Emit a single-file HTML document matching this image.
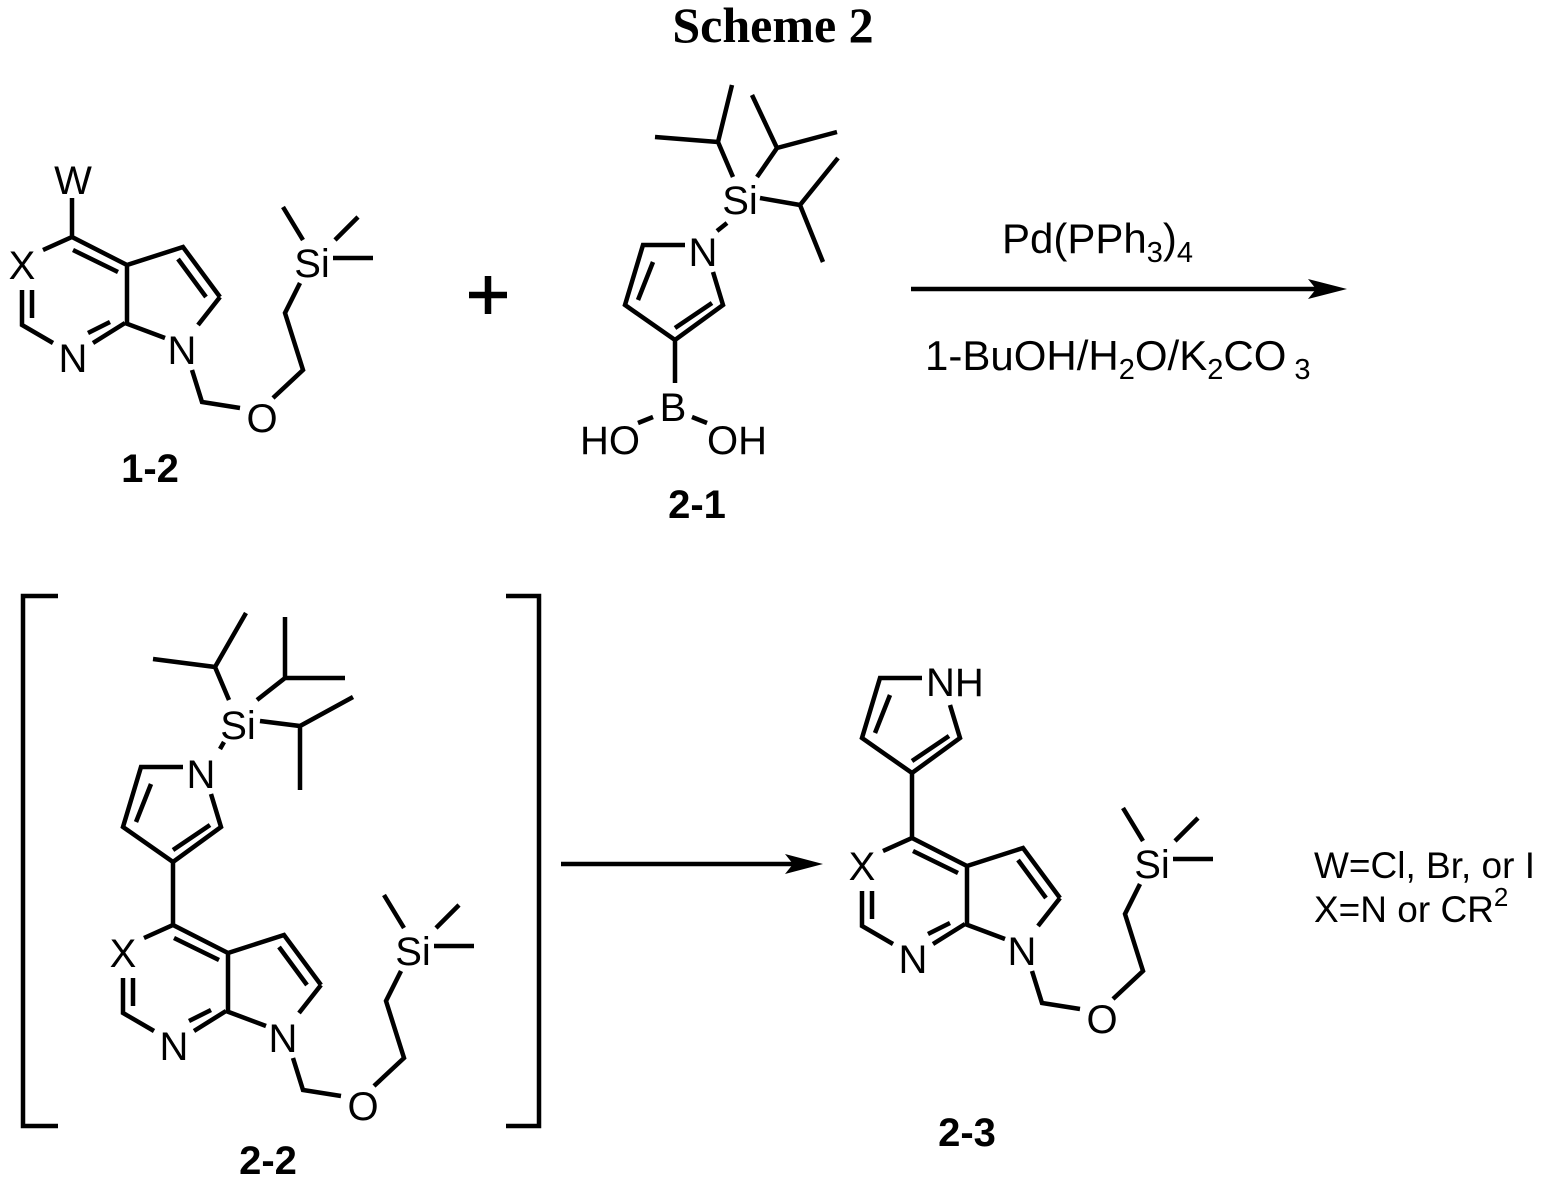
<!DOCTYPE html>
<html><head><meta charset="utf-8"><style>
html,body{margin:0;padding:0;background:#fff;}
svg{display:block;}
text{font-family:"Liberation Sans",Arial,sans-serif;fill:#000;}
.a{font-size:40px;text-anchor:middle;}
.b{font-size:40px;font-weight:bold;text-anchor:middle;}
</style></head><body>
<svg width="1547" height="1181" viewBox="0 0 1547 1181" xmlns="http://www.w3.org/2000/svg">
<g stroke="#000" stroke-width="4.5" fill="none" stroke-linecap="butt">
<g>
<path d="M72 198L72 237M43 250L72 237L127 265M73 250L118 272M127 265L127 323M127 265L183 247L220 297M178 259L206 297M220 297L198 325M125 323L165 338M125 323L93 343M88 333L110 322M53 343L22 325L22 290M32 290L32 318M192 370L202 402L240 408M273 398L303 370L285 313L300 283M283 207L303 240M335 240L358 217M333 258L373 258"/>
</g>
<g transform="translate(101,688)">
<path d="M43 250L72 237L127 265M73 250L118 272M127 265L127 323M127 265L183 247L220 297M178 259L206 297M220 297L198 325M125 323L165 338M125 323L93 343M88 333L110 322M53 343L22 325L22 290M32 290L32 318M192 370L202 402L240 408M273 398L303 370L285 313L300 283M283 207L303 240M335 240L358 217M333 258L373 258"/>
</g>
<g transform="translate(840,601)">
<path d="M43 250L72 237L127 265M73 250L118 272M127 265L127 323M127 265L183 247L220 297M178 259L206 297M220 297L198 325M125 323L165 338M125 323L93 343M88 333L110 322M53 343L22 325L22 290M32 290L32 318M192 370L202 402L240 408M273 398L303 370L285 313L300 283M283 207L303 240M335 240L358 217M333 258L373 258"/>
</g>
<path d="M685 245L643 245L625 305L675 340L723 305L713 272M653 262L638 300M675 328L712 303M675 340L675 383M653 417L638 423M692 417L707 423M727 223L717 231"/>
<path d="M733 177L718 142L655 137M718 142L732 85M757 177L777 148L752 95M777 148L837 132M760 198L800 205L838 158M800 205L823 262"/>
<g transform="translate(-502,522)">
<path d="M685 245L643 245L625 305L675 340L723 305L713 272M653 262L638 300M675 328L712 303"/>
</g>
<path d="M173 862L173 925M220 749L224 742"/>
<path d="M229 700L215 667L153 659M215 667L246 613M257 700L285 678L285 617M285 678L345 678M260 721L300 726L353 697M300 726L300 790"/>
<g transform="translate(237,433)">
<path d="M685 245L643 245L625 305L675 340L723 305L713 272M653 262L638 300M675 328L712 303"/>
</g>
<path d="M912 773L912 838"/>
<path d="M58 596L23 596L23 1126L58 1126M506 596L539 596L539 1126L506 1126"/>
<path d="M911 289L1320 289M561 864L795 864"/>
<path d="M469 295L507 295M488 276L488 314" stroke-width="6.5"/>
</g>
<g fill="#000">
<path d="M1347 289L1308 279L1316 289L1308 299Z"/>
<path d="M823 864L785 854L793 864L785 874Z"/>
</g>
<text x="773" y="42" style="font-family:'Liberation Serif',serif;font-weight:bold;font-size:50px;text-anchor:middle">Scheme 2</text>
<g>
<text class="a" x="73" y="194">W</text>
<text class="a" x="22" y="279">X</text>
<text class="a" x="73" y="372">N</text>
<text class="a" x="182" y="364">N</text>
<text class="a" x="312" y="277">Si</text>
<text class="a" x="262" y="432">O</text>
</g>
<g transform="translate(101,688)">
<text class="a" x="22" y="279">X</text>
<text class="a" x="73" y="372">N</text>
<text class="a" x="182" y="364">N</text>
<text class="a" x="312" y="277">Si</text>
<text class="a" x="262" y="432">O</text>
</g>
<g transform="translate(840,601)">
<text class="a" x="22" y="279">X</text>
<text class="a" x="73" y="372">N</text>
<text class="a" x="182" y="364">N</text>
<text class="a" x="312" y="277">Si</text>
<text class="a" x="262" y="432">O</text>
</g>
<text class="a" x="703" y="266">N</text>
<text class="a" x="740" y="214">Si</text>
<text class="a" x="673" y="421">B</text>
<text class="a" x="610" y="454">HO</text>
<text class="a" x="737" y="454">OH</text>
<text class="a" x="201" y="788">N</text>
<text class="a" x="238" y="739">Si</text>
<text x="926" y="696" style="font-size:40px">NH</text>
<text class="b" x="150" y="482">1-2</text>
<text class="b" x="697" y="518">2-1</text>
<text class="b" x="268" y="1174">2-2</text>
<text class="b" x="967" y="1146">2-3</text>
<text x="1002" y="253" style="font-size:42px">Pd(PPh<tspan font-size="29" dy="9">3</tspan><tspan dy="-9">)</tspan><tspan font-size="29" dy="9">4</tspan></text>
<text x="925" y="370" style="font-size:42px">1-BuOH/H<tspan font-size="29" dy="9">2</tspan><tspan dy="-9">O/K</tspan><tspan font-size="29" dy="9">2</tspan><tspan dy="-9">CO</tspan><tspan font-size="29" dy="9"> 3</tspan></text>
<text x="1314" y="878" style="font-size:37px">W=Cl, Br, or I</text>
<text x="1314" y="922" style="font-size:37px">X=N or CR<tspan font-size="26" dy="-16">2</tspan></text>
</svg>
</body></html>
